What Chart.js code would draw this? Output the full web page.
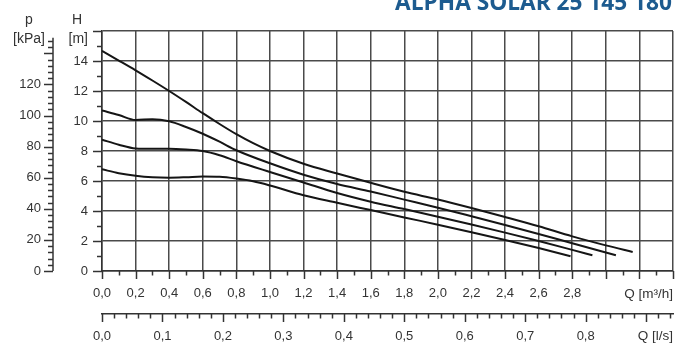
<!DOCTYPE html>
<html><head><meta charset="utf-8">
<script src="https://cdn.jsdelivr.net/npm/chart.js@4/dist/chart.umd.min.js"></script>
<style>html,body{margin:0;padding:0;background:#fff;overflow:hidden}#wrap{width:680px;height:344px}</style>
</head><body><div id="wrap"><canvas id="c" width="680" height="344"></canvas></div>
<script>
// ---- text ----
const chartTitle = 'ALPHA SOLAR 25 145 180';
const xAxisTitle = 'Q [m³/h]';
const x2AxisTitle = 'Q [l/s]';

// ---- tick labels ----
const flowLabelsM3h = ['0,0','0,2','0,4','0,6','0,8','1,0','1,2','1,4','1,6','1,8','2,0','2,2','2,4','2,6','2,8'];
const flowLabelsLs = ['0,0','0,1','0,2','0,3','0,4','0,5','0,6','0,7','0,8'];
const headLabels = ['0','2','4','6','8','10','12','14'];
const pressureLabels = ['0','20','40','60','80','100','120'];

// ---- curves: Q [m³/h] and H [m] ----
const qA = [0,0.1,0.2,0.3,0.4,0.5,0.6,0.7,0.8,0.9,1.0,1.2,1.4,1.6,1.8,2.0,2.2,2.4,2.6,2.8,3.0,3.16];
const hA = [14.67,14.03,13.38,12.7,12.0,11.27,10.52,9.8,9.12,8.52,8.0,7.15,6.5,5.88,5.28,4.77,4.2,3.6,2.98,2.31,1.71,1.27];
const qB = [0,0.1,0.2,0.3,0.4,0.5,0.6,0.7,0.8,1.0,1.2,1.4,1.6,1.8,2.0,2.2,2.4,2.6,2.8,3.06];
const hB = [10.7,10.4,10.07,10.12,9.98,9.6,9.15,8.62,8.05,7.18,6.42,5.8,5.3,4.76,4.22,3.65,3.07,2.47,1.85,1.05];
const qC = [0,0.1,0.2,0.3,0.4,0.5,0.6,0.7,0.8,1.0,1.2,1.4,1.6,1.8,2.0,2.2,2.4,2.6,2.8,2.92];
const hC = [8.76,8.42,8.17,8.15,8.15,8.1,8.0,7.72,7.32,6.6,5.9,5.2,4.62,4.13,3.62,3.1,2.56,2.0,1.41,1.05];
const qD = [0,0.1,0.2,0.3,0.4,0.5,0.6,0.7,0.8,0.9,1.0,1.2,1.4,1.6,1.8,2.0,2.2,2.4,2.6,2.79];
const hD = [6.78,6.52,6.35,6.25,6.22,6.25,6.3,6.28,6.16,5.98,5.7,5.05,4.55,4.06,3.57,3.09,2.59,2.07,1.53,0.98];

// ---- scale constants ----
const qMax = 3.4;            // m³/h
const lsPerM3h = 1/3.6;      // l/s per m³/h
const hMax = 16;             // m
const kPaPerM = 9.65;        // kPa per m (as drawn)

const FONT = "'Liberation Sans', Arial, sans-serif";
const TXT = '#333';
const GRID = '#4a4a4a';

function pts(q,h){ return q.map((v,i)=>({x:v,y:h[i]})); }
function ds(q,h){ return {data:pts(q,h),borderColor:'#151515',borderWidth:2,pointRadius:0,tension:0.4,cubicInterpolationMode:'monotone',fill:false,xAxisID:'x',yAxisID:'y'}; }
function near(v,step){ const k=Math.round(v/step); return Math.abs(v-k*step)<1e-6 ? k : -1; }

const deco = {
  id:'deco',
  afterDraw(chart){
    const c = chart.ctx, s = chart.scales, a = chart.chartArea;
    c.save();
    c.strokeStyle = '#333'; c.lineWidth = 1.5;
    // p axis
    const px = s.p.right;
    c.beginPath(); c.moveTo(px, s.p.getPixelForValue(0)); c.lineTo(px, s.p.getPixelForValue(150)); c.stroke();
    for(let v=0; v<=148; v+=4){
      const y = Math.round(s.p.getPixelForValue(v))+0.5;
      const L = (v%20===0) ? 9 : 5;
      c.beginPath(); c.moveTo(px-L,y); c.lineTo(px,y); c.stroke();
    }
    // H axis ticks
    for(let v=0; v<=hMax; v++){
      const y = Math.round(s.y.getPixelForValue(v))+0.5;
      const L = (v%2===0) ? 9 : 5;
      c.beginPath(); c.moveTo(a.left-L,y); c.lineTo(a.left,y); c.stroke();
    }
    // Q m3/h ticks
    for(let i=0; i<=34; i++){
      const x = Math.round(s.x.getPixelForValue(i*0.1))+0.5;
      const L = (i%2===0) ? 8 : 4.5;
      c.beginPath(); c.moveTo(x,a.bottom); c.lineTo(x,a.bottom+L); c.stroke();
    }
    // Q l/s ticks
    const yb = s.x2.top;
    for(let i=0; i*0.02<=qMax*lsPerM3h+1e-9; i++){
      const x = Math.round(s.x2.getPixelForValue(i*0.02))+0.5;
      const L = (i%5===0) ? 8 : 4.5;
      c.beginPath(); c.moveTo(x,yb); c.lineTo(x,yb+L); c.stroke();
    }
    // texts
    c.fillStyle = TXT;
    c.font = '13.5px '+FONT;
    c.textBaseline = 'middle';
    c.textAlign = 'right';
    c.fillText(xAxisTitle, a.right, 294);
    c.fillText(x2AxisTitle, a.right, 336);
    c.font = '14px '+FONT;
    c.textAlign = 'center';
    c.fillText('p', 29, 20);
    c.fillText('H', 77, 20);
    c.textAlign = 'right';
    c.fillText('[kPa]', 45, 39);
    c.fillText('[m]', 88, 39);
    // title
    c.fillStyle = '#1d5b8f';
    c.textAlign = 'right';
    c.textBaseline = 'alphabetic';
    let fs = 20;
    c.font = 'bold '+fs+"px 'Open Sans', sans-serif";
    const w = c.measureText(chartTitle).width;
    fs = fs*277/w;
    c.font = 'bold '+fs.toFixed(2)+"px 'Open Sans', sans-serif";
    c.fillText(chartTitle, 672, 9.5);
    c.restore();
  }
};

new Chart(document.getElementById('c'), {
  type:'line',
  data:{ datasets:[ ds(qA,hA), ds(qB,hB), ds(qC,hC), ds(qD,hD) ] },
  options:{
    responsive:false, animation:false, devicePixelRatio:1,
    layout:{ padding:{ top:31, right:3, left:0, bottom:0 } },
    plugins:{ legend:{display:false}, tooltip:{enabled:false} },
    scales:{
      x:{ type:'linear', position:'bottom', weight:0, min:0, max:qMax,
          afterFit(sc){ sc.height = 43; },
          ticks:{ stepSize:0.2, autoSkip:false, maxRotation:0, color:TXT, font:{family:FONT,size:13}, padding:7,
                  callback(v){ const k=near(v,0.2); return (k>=0 && k<flowLabelsM3h.length) ? flowLabelsM3h[k] : ''; } },
          grid:{ color:GRID, lineWidth:1.5, tickLength:8, tickColor:'transparent' },
          border:{ color:'#333', width:1.5 } },
      x2:{ type:'linear', position:'bottom', weight:1, min:0, max:qMax*lsPerM3h,
          afterFit(sc){ sc.height = 30; },
          ticks:{ stepSize:0.02, autoSkip:false, maxRotation:0, color:TXT, font:{family:FONT,size:13}, padding:7,
                  callback(v){ const k=near(v,0.1); return (k>=0 && k<flowLabelsLs.length) ? flowLabelsLs[k] : ''; } },
          grid:{ drawOnChartArea:false, tickLength:8, tickColor:'transparent' },
          border:{ color:'#333', width:1.5 } },
      y:{ type:'linear', position:'left', weight:0, min:0, max:hMax,
          afterFit(sc){ sc.width = 49; },
          ticks:{ stepSize:1, autoSkip:false, color:TXT, font:{family:FONT,size:13}, padding:5,
                  callback(v){ return (v%2===0 && v/2<headLabels.length) ? headLabels[v/2] : ''; } },
          grid:{ color:(ctx)=> (ctx.tick && ctx.tick.value%2===0) ? GRID : 'transparent', lineWidth:1.5, tickLength:9, tickColor:'transparent' },
          border:{ color:'#333', width:1.5 } },
      p:{ type:'linear', position:'left', weight:1, min:0, max:hMax*kPaPerM,
          afterFit(sc){ sc.width = 53; },
          ticks:{ stepSize:4, autoSkip:false, color:TXT, font:{family:FONT,size:13}, padding:3,
                  callback(v){ return (v%20===0 && v/20<pressureLabels.length) ? pressureLabels[v/20] : ''; } },
          grid:{ display:true, drawOnChartArea:false, tickLength:9, tickColor:'transparent' },
          border:{ display:false } }
    }
  },
  plugins:[deco]
});
</script></body></html>
